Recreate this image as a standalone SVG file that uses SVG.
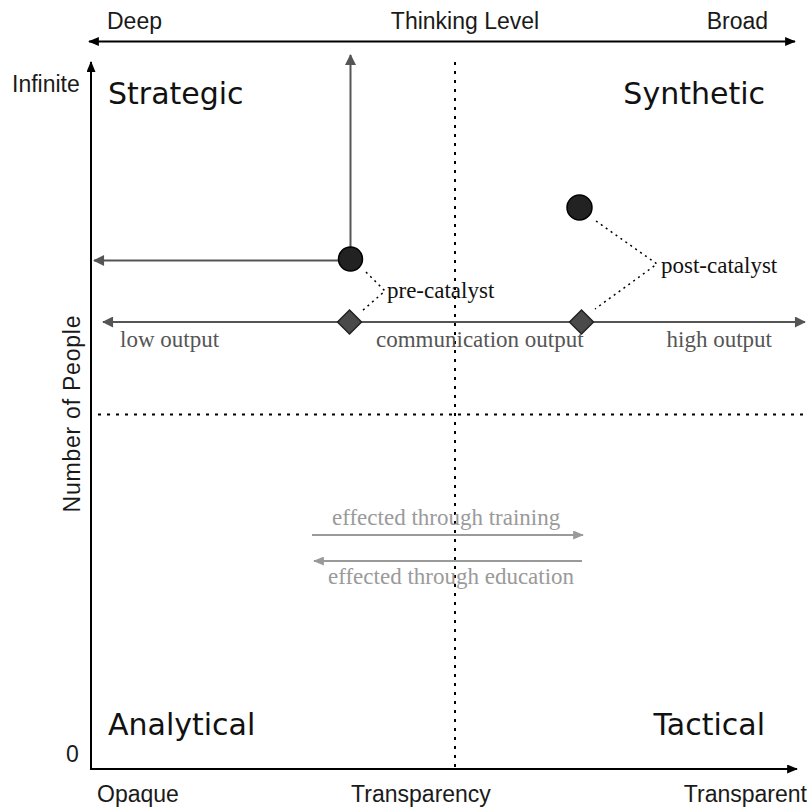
<svg xmlns="http://www.w3.org/2000/svg" width="810" height="811" viewBox="0 0 810 811">
  <defs>
    <style>
      .axis { stroke: #000; stroke-width: 2; fill: none; }
      .guide { stroke: #000; stroke-width: 2; stroke-dasharray: 3 6; fill: none; }
      .track { stroke: #555; stroke-width: 2; fill: none; }
      .soft { stroke: #9a9a9a; stroke-width: 2; fill: none; }
      .leader { stroke: #000; stroke-width: 1.5; stroke-dasharray: 2 4; fill: none; }
      .sans { font-family: "Liberation Sans", Arial, sans-serif; font-size: 23px; fill: #1a1a1a; }
      .quad { font-family: "DejaVu Sans", Verdana, sans-serif; font-size: 30px; fill: #111; }
      .serif { font-family: "Liberation Serif", "Times New Roman", serif; font-size: 23px; }
      .dark { fill: #111; }
      .mid { fill: #555; }
      .light { fill: #9a9a9a; }
      .dot { fill: #222; stroke: #000; stroke-width: 1.5; }
      .gem { fill: #4a4a4a; stroke: #222; stroke-width: 1.5; }
    </style>
    <marker id="arrowBlack" viewBox="0 0 12 10" refX="11" refY="5" markerWidth="12" markerHeight="9" markerUnits="userSpaceOnUse" orient="auto-start-reverse">
      <path d="M0,0 L12,5 L0,10 z" fill="#000"/>
    </marker>
    <marker id="arrowGrey" viewBox="0 0 12 12" refX="11" refY="6" markerWidth="12" markerHeight="11" markerUnits="userSpaceOnUse" orient="auto-start-reverse">
      <path d="M0,0 L12,6 L0,12 z" fill="#555"/>
    </marker>
    <marker id="arrowSoft" viewBox="0 0 12 10" refX="11" refY="5" markerWidth="11" markerHeight="9" markerUnits="userSpaceOnUse" orient="auto-start-reverse">
      <path d="M0,0 L12,5 L0,10 z" fill="#9a9a9a"/>
    </marker>
  </defs>

  <rect width="810" height="811" fill="#fff"/>

  <!-- axes -->
  <g id="axes">
    <line class="axis" x1="89" y1="41.5" x2="795" y2="41.5" marker-start="url(#arrowBlack)" marker-end="url(#arrowBlack)"/>
    <line class="axis" x1="91" y1="769" x2="91" y2="62" marker-end="url(#arrowBlack)"/>
    <line class="axis" x1="90" y1="769" x2="797" y2="769" marker-end="url(#arrowBlack)"/>
    <text class="sans" x="107" y="29">Deep</text>
    <text class="sans" x="465" y="29" text-anchor="middle">Thinking Level</text>
    <text class="sans" x="768" y="29" text-anchor="end">Broad</text>
    <text class="sans" x="12" y="92">Infinite</text>
    <text class="sans" x="66" y="762">0</text>
    <text class="sans" x="80" y="414" text-anchor="middle" textLength="197" lengthAdjust="spacing" transform="rotate(-90 80 414)">Number of People</text>
    <text class="sans" x="97" y="802">Opaque</text>
    <text class="sans" x="421" y="802" text-anchor="middle">Transparency</text>
    <text class="sans" x="807" y="802" text-anchor="end">Transparent</text>
  </g>

  <!-- quadrant dividers -->
  <g id="dividers">
    <line class="guide" x1="455" y1="62" x2="455" y2="768"/>
    <line class="guide" x1="98" y1="414.5" x2="806" y2="414.5"/>
  </g>

  <!-- quadrant names -->
  <g id="quadrants">
    <text class="quad" x="108" y="104">Strategic</text>
    <text class="quad" x="765" y="104" text-anchor="end">Synthetic</text>
    <text class="quad" x="108" y="735">Analytical</text>
    <text class="quad" x="765" y="735" text-anchor="end">Tactical</text>
  </g>

  <!-- connectors -->
  <g id="connectors">
    <line class="track" x1="350.5" y1="259" x2="350.5" y2="55" marker-end="url(#arrowGrey)"/>
    <line class="track" x1="350" y1="260.5" x2="94" y2="260.5" marker-end="url(#arrowGrey)"/>
    <line class="track" x1="103" y1="322" x2="805" y2="322" marker-start="url(#arrowGrey)" marker-end="url(#arrowGrey)"/>
    <polyline class="leader" points="366,272 385,291 362,311"/>
    <polyline class="leader" points="596,221 657,264 595,309"/>
    <line class="soft" x1="312" y1="535" x2="583" y2="535" marker-end="url(#arrowSoft)"/>
    <line class="soft" x1="582" y1="561" x2="314" y2="561" marker-end="url(#arrowSoft)"/>
  </g>

  <!-- states -->
  <g id="pre-catalyst-people">
    <circle class="dot" cx="350.5" cy="259" r="12"/>
  </g>
  <g id="pre-catalyst-output">
    <path class="gem" d="M349.5,310 L361.5,322 L349.5,334 L337.5,322 z"/>
  </g>
  <g id="post-catalyst-people">
    <circle class="dot" cx="579.5" cy="207.5" r="12.5"/>
  </g>
  <g id="post-catalyst-output">
    <path class="gem" d="M581.5,310 L593.5,322 L581.5,334 L569.5,322 z"/>
  </g>

  <!-- labels -->
  <g id="labels">
    <text class="serif dark" x="387" y="298">pre-catalyst</text>
    <text class="serif dark" x="661" y="273">post-catalyst</text>
    <text class="serif mid" x="120" y="347">low output</text>
    <text class="serif mid" x="376" y="347">communication output</text>
    <text class="serif mid" x="772" y="347" text-anchor="end">high output</text>
    <text class="serif light" x="332" y="525">effected through training</text>
    <text class="serif light" x="328" y="584">effected through education</text>
  </g>
</svg>
